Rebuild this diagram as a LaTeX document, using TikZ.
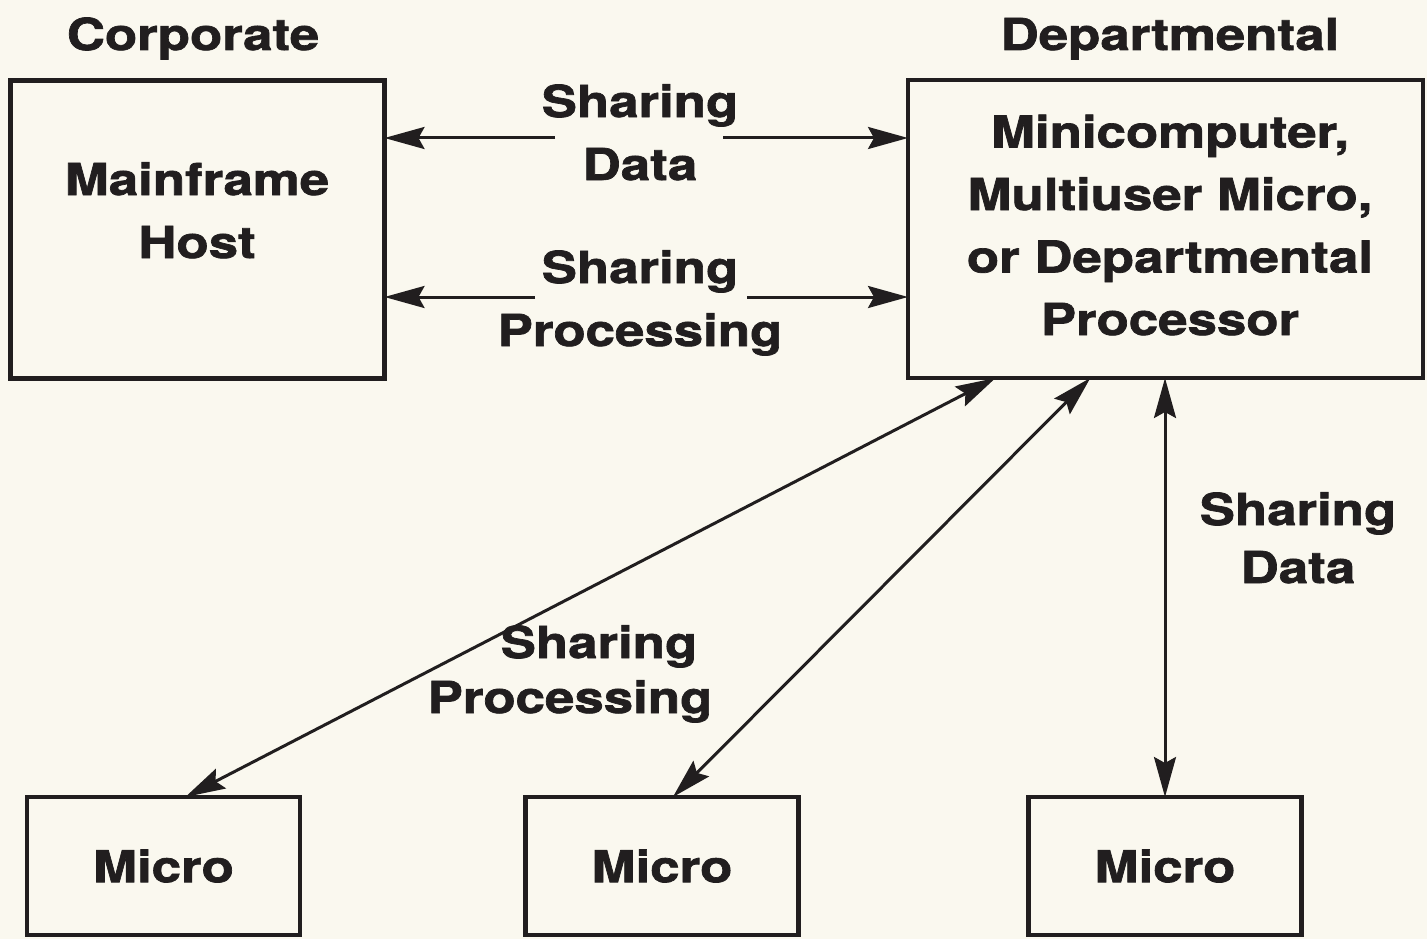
\documentclass[tikz,border=0pt]{standalone}
\usepackage{fontspec}
\newfontfamily\labfont[FakeStretch=1.2,FakeBold=1.6]{TeX Gyre Heros}
\usetikzlibrary{arrows.meta,calc}
\definecolor{paper}{RGB}{250,248,239}
\definecolor{ink}{RGB}{33,30,31}
\begin{document}
\begin{tikzpicture}[x=1pt,y=-1pt,
  lbl/.style={font=\labfont\bfseries\fontsize{44}{63}\selectfont, text=ink,
    align=center, inner sep=0pt, anchor=base},
  box/.style={draw=ink, line width=4.5pt, rectangle, inner sep=0pt, outer sep=0pt},
  microbox/.style={box, minimum width=273pt, minimum height=138pt,
    font=\labfont\bfseries\fontsize{44}{63}\selectfont, text=ink},
  conn/.style={draw=ink, line width=3pt},
  tip/.tip={Stealth[length=40pt,width=22pt,inset=6pt]}]
% page
\fill[paper] (0,0) rectangle (1427,939);
\useasboundingbox (0,0) rectangle (1427,939);

% headings
\node[lbl] (corp) at (193,50) {Corporate};
\node[lbl] (deptl) at (1170,50) {Departmental};

% main boxes
\node[box, minimum width=374pt, minimum height=298pt] (main) at (197.5,229.5) {};
\node[box, minimum width=515pt, minimum height=298pt] (dept) at (1165.5,229) {};
% multi-line labels are placed by the baseline of their last line
\node[lbl] (maintxt) at (197,258) {Mainframe\\Host};
\node[lbl, font=\labfont\bfseries\fontsize{44}{62.5}\selectfont] (depttxt) at (1170,335)
  {Minicomputer,\\Multiuser Micro,\\or Departmental\\Processor};

% micro boxes
\node[microbox] (m1) at (163.5,866) {Micro};
\node[microbox] (m2) at (662,866) {Micro};
\node[microbox] (m3) at (1165,866) {Micro};

% links between host and departmental processor
\node[lbl] (sd1) at (640,180) {Sharing\\Data};
\node[lbl] (sp1) at (640,346) {Sharing\\Processing};
\coordinate (g1l) at (555,138);
\coordinate (g1r) at (723,138);
\coordinate (g2l) at (535,297);
\coordinate (g2r) at (747,297);
\draw[conn,-{tip}] (g1l) -- (g1l -| main.east);
\draw[conn,-{tip}] (g1r) -- (g1r -| dept.west);
\draw[conn,-{tip}] (g2l) -- (g2l -| main.east);
\draw[conn,-{tip}] (g2r) -- (g2r -| dept.west);

% links to the micros
\draw[conn,{tip}-{tip}] ($(dept.south west)!0.17!(dept.south east)$)
  -- ($(m1.north west)!0.58!(m1.north east)$);
\draw[conn,{tip}-{tip}] ($(dept.south west)!0.354!(dept.south east)$)
  -- ($(m2.north west)!0.54!(m2.north east)$);
\draw[conn,{tip}-{tip}] (m3.north |- dept.south) -- (m3.north);

\node[lbl, font=\labfont\bfseries\fontsize{44}{55}\selectfont] (sp2) at (570,713)
  {\hspace*{58pt}Sharing\\Processing};
\node[lbl, font=\labfont\bfseries\fontsize{44}{58}\selectfont] (sd2) at (1298,583)
  {Sharing\\Data};
\end{tikzpicture}
\end{document}
